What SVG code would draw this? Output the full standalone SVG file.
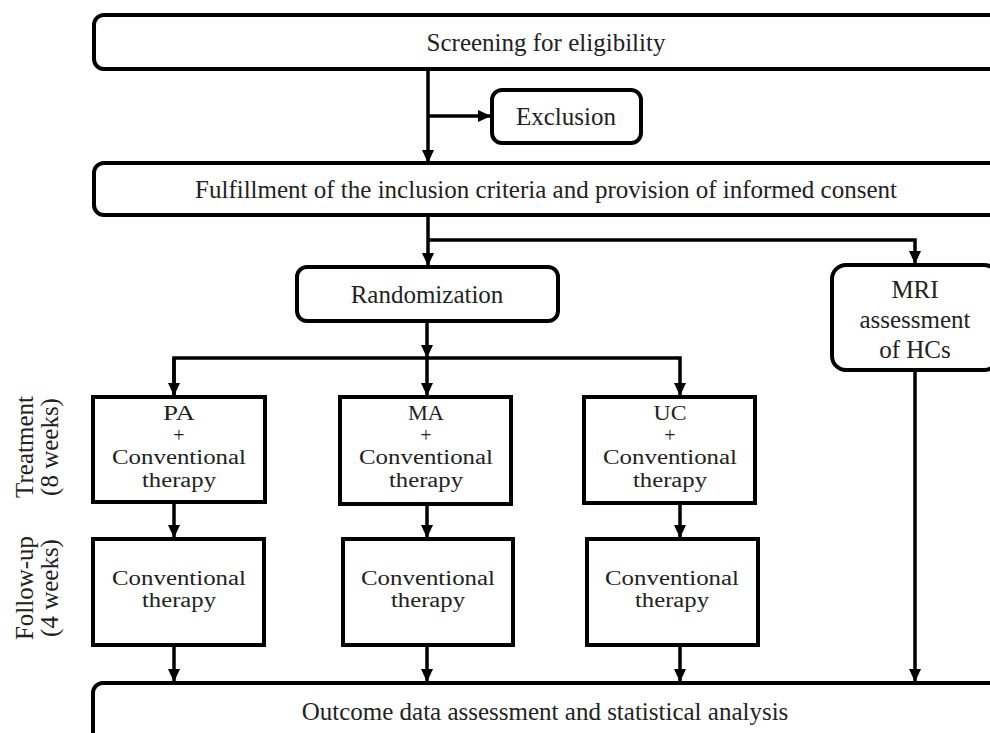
<svg xmlns="http://www.w3.org/2000/svg" width="990" height="733" viewBox="0 0 990 733">
<style>
.box{fill:#fff;stroke:#000;stroke-width:4}
.t{font-family:"Liberation Serif","Times New Roman",serif;font-size:25px;fill:#222;text-anchor:middle}
.s{font-size:20px}
.c{fill:none;stroke:#000;stroke-width:3.5}
</style>
<defs>
<marker id="ah" markerUnits="userSpaceOnUse" markerWidth="14" markerHeight="14" viewBox="0 0 14 14" refX="13" refY="7" orient="auto">
<path d="M0,1 L13,7 L0,13 Z" fill="#000"/>
</marker>
</defs>
<rect width="990" height="733" fill="#fff"/>

<g id="connectors">
<path class="c" d="M428,69 V163" marker-end="url(#ah)"/>
<path class="c" d="M428,116 H491" marker-end="url(#ah)"/>
<path class="c" d="M428,215 V266" marker-end="url(#ah)"/>
<path class="c" d="M428,240 H915 V264" marker-end="url(#ah)"/>
<path class="c" d="M427,321 V358" marker-end="url(#ah)"/>
<path class="c" d="M174,396 V358 H680 V396" marker-end="url(#ah)"/>
<path class="c" d="M174,358 V396" marker-end="url(#ah)"/>
<path class="c" d="M427,358 V396" marker-end="url(#ah)"/>
<path class="c" d="M174,502 V538" marker-end="url(#ah)"/>
<path class="c" d="M427,504 V538" marker-end="url(#ah)"/>
<path class="c" d="M680,503 V538" marker-end="url(#ah)"/>
<path class="c" d="M174,645 V682" marker-end="url(#ah)"/>
<path class="c" d="M427,645 V682" marker-end="url(#ah)"/>
<path class="c" d="M680,645 V682" marker-end="url(#ah)"/>
<path class="c" d="M915,370 V682" marker-end="url(#ah)"/>
</g>

<g id="screening">
<rect class="box" x="94" y="15" width="908" height="54" rx="10"/>
<text class="t" x="546" y="51">Screening for eligibility</text>
</g>
<g id="exclusion">
<rect class="box" x="492" y="90" width="149" height="53" rx="10"/>
<text class="t" x="566" y="125">Exclusion</text>
</g>
<g id="fulfillment">
<rect class="box" x="94" y="163" width="908" height="52" rx="10"/>
<text class="t" x="546" y="198">Fulfillment of the inclusion criteria and provision of informed consent</text>
</g>
<g id="randomization">
<rect class="box" x="297" y="267" width="261" height="54" rx="10"/>
<text class="t" x="427" y="303">Randomization</text>
</g>
<g id="mri">
<rect class="box" x="832" y="265" width="166" height="105" rx="14"/>
<text class="t" x="915" y="298">MRI</text>
<text class="t" x="915" y="328">assessment</text>
<text class="t" x="915" y="358">of HCs</text>
</g>

<g id="label-treatment">
<text class="t" transform="translate(33,447) rotate(-90)">Treatment</text>
<text class="t" transform="translate(58,447) rotate(-90)">(8 weeks)</text>
</g>
<g id="label-followup">
<text class="t" transform="translate(33,588) rotate(-90)">Follow-up</text>
<text class="t" transform="translate(58,588) rotate(-90)">(4 weeks)</text>
</g>

<g id="pa">
<rect class="box" x="93" y="397" width="172" height="105"/>
<text class="t s" x="179" y="420" textLength="32" lengthAdjust="spacingAndGlyphs">PA</text>
<text class="t s" x="179" y="442">+</text>
<text class="t s" x="179" y="464" textLength="134" lengthAdjust="spacingAndGlyphs">Conventional</text>
<text class="t s" x="179" y="487" textLength="74" lengthAdjust="spacingAndGlyphs">therapy</text>
</g>
<g id="ma">
<rect class="box" x="340" y="397" width="171" height="107"/>
<text class="t s" x="426" y="420" textLength="36" lengthAdjust="spacingAndGlyphs">MA</text>
<text class="t s" x="426" y="442">+</text>
<text class="t s" x="426" y="464" textLength="134" lengthAdjust="spacingAndGlyphs">Conventional</text>
<text class="t s" x="426" y="487" textLength="74" lengthAdjust="spacingAndGlyphs">therapy</text>
</g>
<g id="uc">
<rect class="box" x="584" y="397" width="171" height="106"/>
<text class="t s" x="670" y="420" textLength="33" lengthAdjust="spacingAndGlyphs">UC</text>
<text class="t s" x="670" y="442">+</text>
<text class="t s" x="670" y="464" textLength="134" lengthAdjust="spacingAndGlyphs">Conventional</text>
<text class="t s" x="670" y="487" textLength="74" lengthAdjust="spacingAndGlyphs">therapy</text>
</g>

<g id="pa-followup">
<rect class="box" x="93" y="539" width="171" height="106"/>
<text class="t s" x="179" y="585" textLength="134" lengthAdjust="spacingAndGlyphs">Conventional</text>
<text class="t s" x="179" y="607" textLength="74" lengthAdjust="spacingAndGlyphs">therapy</text>
</g>
<g id="ma-followup">
<rect class="box" x="343" y="539" width="170" height="106"/>
<text class="t s" x="428" y="585" textLength="134" lengthAdjust="spacingAndGlyphs">Conventional</text>
<text class="t s" x="428" y="607" textLength="74" lengthAdjust="spacingAndGlyphs">therapy</text>
</g>
<g id="uc-followup">
<rect class="box" x="587" y="539" width="171" height="106"/>
<text class="t s" x="672" y="585" textLength="134" lengthAdjust="spacingAndGlyphs">Conventional</text>
<text class="t s" x="672" y="607" textLength="74" lengthAdjust="spacingAndGlyphs">therapy</text>
</g>

<g id="outcome">
<rect class="box" x="93" y="683" width="909" height="70" rx="10"/>
<text class="t" x="545" y="720">Outcome data assessment and statistical  analysis</text>
</g>
</svg>
